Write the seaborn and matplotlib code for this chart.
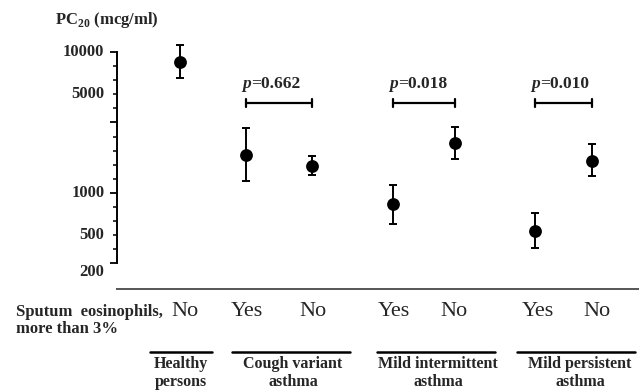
import matplotlib
matplotlib.use("Agg")
import matplotlib.pyplot as plt
from matplotlib.lines import Line2D
import numpy as np
import pandas as pd
import seaborn as sns

# data (PC20, mcg/ml)
groups = ["Healthy", "Cough", "Cough", "MI", "MI", "MP", "MP"]
eos = ["No", "Yes", "No", "Yes", "No", "Yes", "No"]
pc20 = [8500, 1860, 1560, 830, 2250, 540, 1690]
pc20_hi = [11200, 2880, 1830, 1140, 2950, 725, 2210]
pc20_lo = [6580, 1220, 1340, 606, 1730, 405, 1320]

p_labels = ["=0.662", "=0.018", "=0.010"]
group_titles = ["Healthy\npersons", "Cough variant\nasthma",
                "Mild intermittent\nasthma", "Mild persistent\nasthma"]
ytick_labels = ["10000", "5000", "1000", "500", "200"]

# layout (pixels of the 639x392 canvas)
W, H = 639, 392
x_pos = [180, 246, 312, 393, 455, 535, 592]
label_y = [10000, 5000, 1000, 500, 275]
pairs = [(1, 2), (3, 4), (5, 6)]
eos_x = [185, 247, 313, 394, 454, 538, 597]
group_spans = [(150, 212), (232, 350), (377, 495), (517, 635)]
title_x = [181, 293, 438, 580]

df = pd.DataFrame({"group": groups, "eos": eos, "x": x_pos,
                   "pc20": pc20, "hi": pc20_hi, "lo": pc20_lo})

sns.set_theme(style="white")
plt.rcParams["font.family"] = ["Liberation Serif", "DejaVu Serif"]
plt.rcParams["mathtext.fontset"] = "custom"
plt.rcParams["mathtext.rm"] = "Liberation Serif"
plt.rcParams["mathtext.bf"] = "Liberation Serif:bold"

fig = plt.figure(figsize=(W / 100, H / 100), dpi=100)
ax = fig.add_axes([117 / W, (H - 289) / H, (W - 117) / W, (289 - 30) / H])

ax.set_yscale("log")
ax.set_ylim(10 ** 2.319, 10 ** 4.156)
ax.set_xlim(117, W)

ax.errorbar(df["x"], df["pc20"],
            yerr=[df["pc20"] - df["lo"], df["hi"] - df["pc20"]],
            fmt="none", ecolor="black", elinewidth=1.4, capsize=3,
            capthick=1.4, zorder=2)
sns.scatterplot(data=df, x="x", y="pc20", color="black", s=85,
                edgecolor="black", linewidth=0, ax=ax, zorder=3, legend=False)

# p-value brackets
br_y = 4350
for (i, j), lab in zip(pairs, p_labels):
    x0, x1 = x_pos[i], x_pos[j]
    ax.plot([x0, x1], [br_y, br_y], color="black", lw=1.6)
    ax.plot([x0, x0], [br_y * 0.93, br_y * 1.075], color="black", lw=1.6)
    ax.plot([x1, x1], [br_y * 0.93, br_y * 1.075], color="black", lw=1.6)
    ax.text(x0 + 5, 5900, "p", ha="right", va="center", fontsize=12.5,
            fontweight="bold", fontstyle="italic")
    ax.text(x0 + 5, 5900, lab, ha="left", va="center", fontsize=12.5,
            fontweight="bold")

# axis styling
for s in ["top", "right"]:
    ax.spines[s].set_visible(False)
ax.spines["left"].set_bounds(10 ** 2.5, 10 ** 4)
ax.spines["left"].set_color("black")
ax.spines["left"].set_linewidth(1.4)
ax.spines["bottom"].set_color("#555555")
ax.spines["bottom"].set_linewidth(1.4)
ax.set_yticks([10 ** 4, 10 ** 3.5, 10 ** 3, 10 ** 2.5])
ax.set_yticks([10 ** (2.5 + 0.1 * k) for k in range(16)], minor=True)
ax.set_yticklabels([])
ax.yaxis.set_minor_formatter(matplotlib.ticker.NullFormatter())
ax.tick_params(axis="y", which="major", direction="out", length=5,
               width=1.3, color="black", left=True)
ax.tick_params(axis="y", which="minor", direction="out", length=3,
               width=1.1, color="black", left=True)
ax.set_xticks([])
ax.set_xlabel("")
ax.set_ylabel("")

for lab, yv in zip(ytick_labels, label_y):
    ax.text(-0.024, yv, lab, transform=ax.get_yaxis_transform(),
            ha="right", va="center", fontsize=12, fontweight="bold")

fig.text(55 / W, 1 - 20 / H, r"PC$_{\mathbf{20}}$ (mcg/ml)", ha="left",
         va="center", fontsize=12, fontweight="bold")

# sputum row
fig.text(16 / W, 1 - 312 / H, "Sputum  eosinophils,", ha="left",
         va="center", fontsize=12, fontweight="bold")
fig.text(16 / W, 1 - 329 / H, "more than 3%", ha="left", va="center",
         fontsize=12, fontweight="bold")
for lab, xv in zip(eos, eos_x):
    fig.text(xv / W, 1 - 312 / H, lab, ha="center", va="center",
             fontsize=16)

# group underlines and titles
for (a, b), tx, title in zip(group_spans, title_x, group_titles):
    fig.add_artist(Line2D([a / W, b / W], [1 - 352 / H, 1 - 352 / H],
                          color="black", lw=1.8))
    fig.text(tx / W, 1 - 373 / H, title, ha="center", va="center",
             fontsize=11.5, fontweight="bold", linespacing=1.15)

fig.savefig("out.png", dpi=100)
plt.close(fig)
